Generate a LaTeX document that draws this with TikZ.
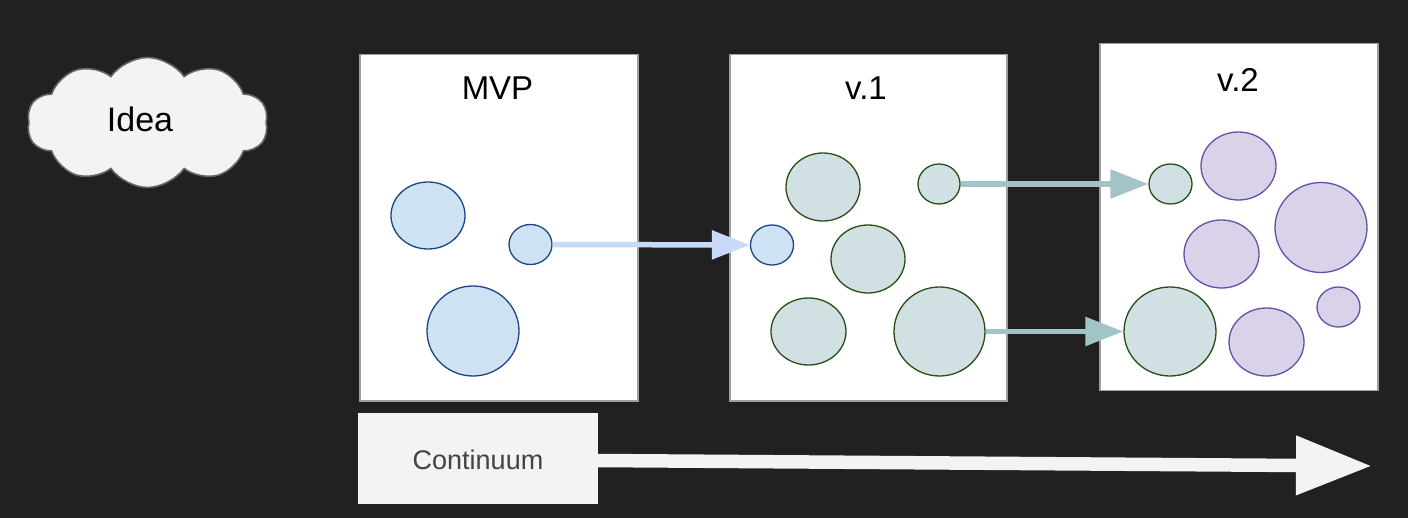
\documentclass[tikz,border=0pt]{standalone}
\usepackage{fontspec}
\setmainfont{Liberation Sans}
\usetikzlibrary{shapes.geometric,shapes.symbols,arrows.meta}
\definecolor{bg}{HTML}{212121}
\definecolor{cloudfill}{HTML}{F3F3F3}
\definecolor{cloudline}{HTML}{666666}
\definecolor{boxline}{HTML}{9E9E9E}
\definecolor{bluefill}{HTML}{CFE2F3}
\definecolor{blueline}{HTML}{1C4587}
\definecolor{greenfill}{HTML}{D0E0E3}
\definecolor{greenline}{HTML}{274E13}
\definecolor{purplefill}{HTML}{D9D2E9}
\definecolor{purpleline}{HTML}{674EA7}
\definecolor{bluearrow}{HTML}{C9DAF8}
\definecolor{tealarrow}{HTML}{A2C4C9}
\definecolor{conttext}{HTML}{434343}
\tikzset{
  panel/.style={draw=boxline, line width=1.5pt, fill=white, inner sep=0pt, anchor=north west},
  title/.style={font=\fontsize{33}{36}\selectfont, text=black, anchor=base, inner sep=0pt},
  blob/.style={ellipse, inner sep=0pt, line width=1.3pt},
  blueblob/.style={blob, draw=blueline, fill=bluefill},
  greenblob/.style={blob, draw=greenline, fill=greenfill},
  purpleblob/.style={blob, draw=purpleline, fill=purplefill},
  sz/.style n args={2}{minimum width=#1pt, minimum height=#2pt},
  thinarrow/.style={line width=5.5pt, -{Triangle[length=38pt,width=28pt]}},
}
\begin{document}
\begin{tikzpicture}[x=1pt,y=-1pt]
\fill[bg] (0,0) rectangle (1408,518);
\useasboundingbox (0,0) rectangle (1408,518);

% cloud
\node[cloud, cloud puffs=10, cloud puff arc=110, aspect=1.9, draw=cloudline, line width=1.6pt, fill=cloudfill,
      minimum width=241pt, minimum height=130pt, inner sep=0pt] (idea) at (147.5,122.5) {};
\node[font=\fontsize{34}{38}\selectfont, anchor=base, inner sep=0pt] (ideatext) at (140,132) {Idea};

% panels
\node[panel, minimum width=278pt, minimum height=346pt] (mvp) at (359,54) {};
\node[panel, minimum width=277pt, minimum height=346pt] (v1) at (729,54) {};
\node[panel, minimum width=278pt, minimum height=347pt] (v2) at (1099,43) {};
\node[title] (mvpt) at (497.5,100) {MVP};
\node[title] (v1t) at (866,100) {v.1};
\node[title] (v2t) at (1238,92) {v.2};

% MVP blobs
\node[blueblob, sz={74}{67}] (m1) at (428,215.5) {};
\node[blueblob, sz={43}{40}] (m2) at (530.5,244.5) {};
\node[blueblob, sz={92}{90}] (m3) at (473,331) {};

% v.1 blobs
\node[greenblob, sz={74}{68}] (a1) at (823,187) {};
\node[greenblob, sz={42}{40}] (a2) at (939,184) {};
\node[blueblob, sz={43}{40}] (a3) at (772,245) {};
\node[greenblob, sz={74}{68}] (a4) at (868,259) {};
\node[greenblob, sz={75}{67}] (a5) at (808.5,331.5) {};
\node[greenblob, sz={91}{89}] (a6) at (939.5,331.5) {};

% v.2 blobs
\node[greenblob, sz={43}{40}] (b1) at (1170.5,184) {};
\node[purpleblob, sz={75}{68}] (b2) at (1238.5,166) {};
\node[purpleblob, sz={92}{90}] (b3) at (1321,227.5) {};
\node[purpleblob, sz={75}{68}] (b4) at (1221.5,254) {};
\node[greenblob, sz={92}{89}] (b5) at (1170,331.5) {};
\node[purpleblob, sz={43}{40}] (b6) at (1338.5,307) {};
\node[purpleblob, sz={75}{68}] (b7) at (1266.5,342) {};

% arrows between blobs
\draw[thinarrow, draw=bluearrow, fill=bluearrow] (m2.east) -- (a3.west);
\draw[thinarrow, draw=tealarrow, fill=tealarrow] (a2.east) -- (b1.west);
\draw[thinarrow, draw=tealarrow, fill=tealarrow] (a6.east) -- (b5.west);

% continuum
\node[fill=cloudfill, minimum width=240pt, minimum height=91pt, inner sep=0pt, anchor=north west] (cont) at (358,413) {};
\node[font=\fontsize{27}{30}\selectfont, text=conttext, anchor=base, inner sep=0pt] (conttxt) at (478,469.5) {Continuum};
\coordinate (tip) at (1372,466);
\coordinate (start) at (598,460.5);
\draw[line width=13.5pt, draw=cloudfill, fill=cloudfill, -{Triangle[length=76pt,width=56pt]}] (start) -- (tip);
\end{tikzpicture}
\end{document}
